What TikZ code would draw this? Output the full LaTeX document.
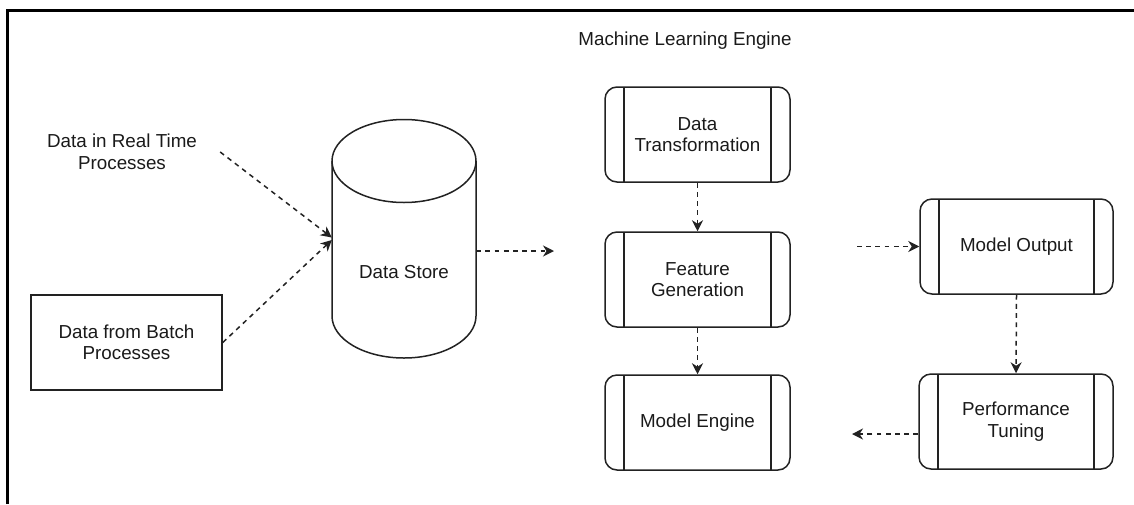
\documentclass[tikz,border=0pt]{standalone}
\usepackage{fontspec}
\setmainfont{Liberation Sans}
\usetikzlibrary{arrows.meta}
\definecolor{ink}{HTML}{1A1A1A}
\definecolor{edge}{HTML}{222222}
\tikzset{
  lbl/.style={font=\fontsize{18.8}{21.5}\selectfont, text=ink, align=center, inner sep=0pt},
  plainbox/.style={lbl, draw=edge, line width=1.5pt},
  procbox/.style={lbl, draw=edge, line width=1.5pt, rounded corners=12pt,
    path picture={
      \draw[edge, line width=1.5pt]
        ([xshift=19pt]path picture bounding box.north west) -- ([xshift=19pt]path picture bounding box.south west)
        ([xshift=-19pt]path picture bounding box.north east) -- ([xshift=-19pt]path picture bounding box.south east);
    }},
  flow/.style={draw=edge, line width=1.5pt, dash pattern=on 4.8pt off 4.4pt,
    -{Stealth[length=11pt, width=11pt, inset=3.5pt]}},
}
\begin{document}
\begin{tikzpicture}[x=1pt, y=-1pt]
\useasboundingbox (0,0) rectangle (1134,504);
% frame
\draw[black, line width=3pt] (7,504) -- (7,10) -- (1134,10);

% title
\node[lbl] (title) at (685,41) {Machine Learning Engine};

% sources
\node[lbl, minimum width=196pt] (realtime) at (122,152) {Data in Real Time\\Processes};
\node[plainbox, minimum width=191pt, minimum height=95pt] (batch) at (126.5,342.5) {Data from Batch\\Processes};

% data store cylinder
\node[minimum width=144pt, minimum height=238pt, inner sep=0pt] (store) at (404,239) {};
\draw[edge, line width=1.5pt] (332,161) -- (332,316)
  arc[start angle=180, end angle=360, x radius=72pt, y radius=42pt] -- (476,161);
\draw[edge, line width=1.5pt] (404,161) ellipse [x radius=72pt, y radius=41.5pt];
\node[lbl] (storetext) at (404,272) {Data Store};

% engine steps
\node[procbox, minimum width=185pt, minimum height=95pt] (trans) at (697.5,134.5) {Data\\Transformation};
\node[procbox, minimum width=185pt, minimum height=95pt] (feat) at (697.5,279.5) {Feature\\Generation};
\node[procbox, minimum width=185pt, minimum height=95pt] (engine) at (697.5,422.5) {Model Engine};
\node[procbox, minimum width=193pt, minimum height=95pt] (output) at (1016.5,246.5) {Model Output};
\node[procbox, minimum width=194pt, minimum height=95pt] (tuning) at (1016,421.5) {Performance\\Tuning};

% free ends of open connectors
\coordinate (storeout) at (554,251);
\coordinate (outin) at (857,246.5);
\coordinate (tuneout) at (852,434);

% connectors
\draw[flow] (realtime.east) -- ([yshift=1.5pt]store.west);
\draw[flow] (batch.east) -- ([yshift=-1pt]store.west);
\draw[flow] ([yshift=-12pt]store.east) -- (storeout);
\draw[flow] (trans.south) -- (feat.north);
\draw[flow] (feat.south) -- (engine.north);
\draw[flow] (outin) -- (output.west);
\draw[flow] (output.south) -- (tuning.north);
\draw[flow] ([yshift=-12.5pt]tuning.west) -- (tuneout);
\end{tikzpicture}
\end{document}
